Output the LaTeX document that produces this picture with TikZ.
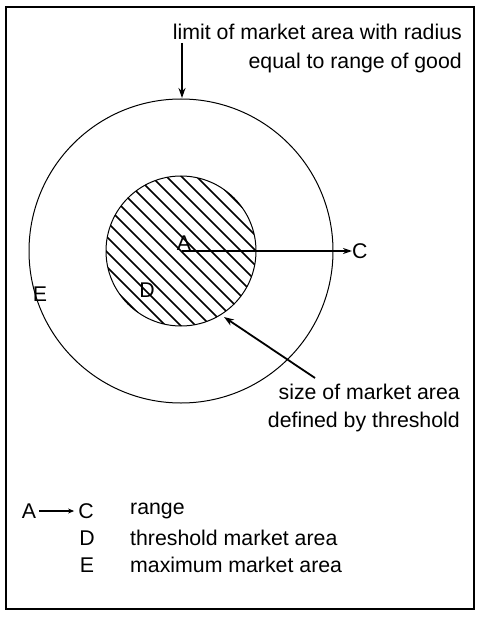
\documentclass[tikz,border=0pt]{standalone}
\usepackage{fontspec}
\setmainfont{Liberation Sans}
\usetikzlibrary{arrows.meta,calc}
\begin{document}
\begin{tikzpicture}[x=1pt,y=-1pt,
  lbl/.style={font=\fontsize{21.3}{24}\selectfont, inner sep=0pt},
  thinline/.style={line width=1pt},
  arr/.style={line width=1.8pt,-{Stealth[length=10pt,width=7pt]}},
  hatch/.style={line width=1.5pt}]
\useasboundingbox (0,0) rectangle (480,617);
\draw[line width=1.5pt] (6,7) rectangle (474,609);
% circles
\coordinate (ctr) at (181,251);
\draw[thinline] (ctr) circle (152);
\begin{scope}
  \clip (ctr) circle (75);
  \foreach \c in {-165,-150,...,165}
    \draw[hatch] ($(ctr)+(\c-110,-110)$) -- ($(ctr)+(\c+110,110)$);
\end{scope}
\draw[thinline] (ctr) circle (75);
% top label and arrow
\node[lbl, anchor=east] (t1) at (462,32) {limit of market area with radius};
\node[lbl, anchor=east] (t2) at (462,63) {equal to range of good};
\coordinate (top0) at (182,43);
\coordinate (top1) at (182,98);
\draw[arr] (top0) -- (top1);
% A -> C
\node[lbl, anchor=south] (A) at (184,251) {A};
\node[lbl, anchor=west] (C) at (352,251) {C};
\draw[line width=1.5pt,-{Stealth[length=9pt,width=6pt]}] (182,251) -- (C.west);
\node[lbl] (D) at (147,290) {D};
\node[lbl] (E) at (40,294) {E};
% bottom label and arrow
\node[lbl, anchor=east] (b1) at (460,392) {size of market area};
\node[lbl, anchor=east] (b2) at (460,422) {defined by threshold};
\coordinate (bot0) at (315,378);
\coordinate (bot1) at (224,317);
\draw[arr] (bot0) -- (bot1);
% legend
\node[lbl] (LA) at (29,511) {A};
\node[lbl] (LC) at (86,511) {C};
\draw[line width=1.5pt,-{Stealth[length=6pt,width=5pt]}] ($(LA.east)+(3,0)$) -- ($(LC.west)+(-4,0)$);
\node[lbl] (LD) at (87,538) {D};
\node[lbl] (LE) at (87,565) {E};
\node[lbl, anchor=west] (r1) at (130,511) {range};
\node[lbl, anchor=west] (r2) at (130,538) {threshold market area};
\node[lbl, anchor=west] (r3) at (130,565) {maximum market area};
\end{tikzpicture}
\end{document}
